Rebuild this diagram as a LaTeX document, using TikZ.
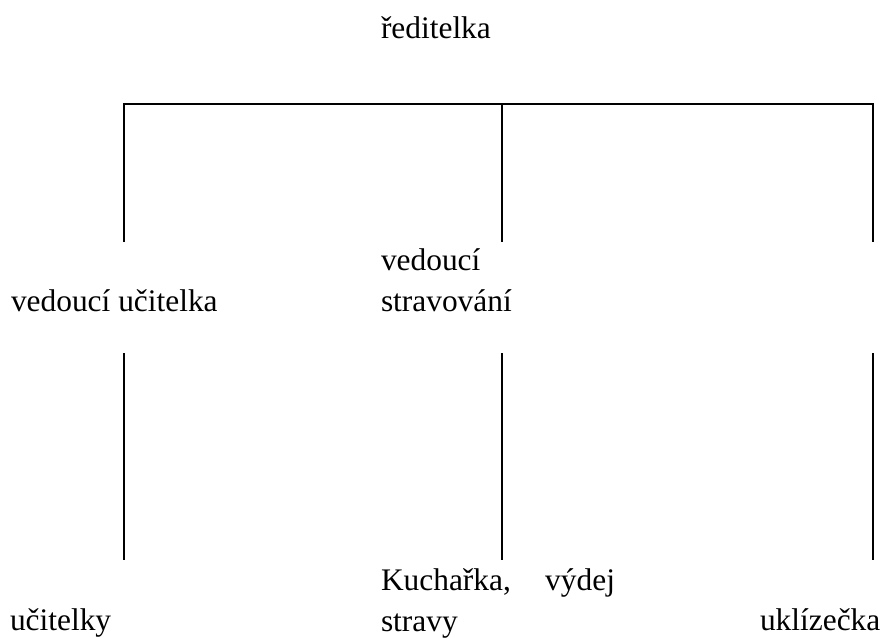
\documentclass[tikz,border=0pt]{standalone}
\usepackage{fontspec}
\setmainfont{Liberation Serif}
\begin{document}
\begin{tikzpicture}[x=1pt,y=-1pt,
  lbl/.style={inner sep=0pt,outer sep=0pt,anchor=base west,
    font=\fontsize{31.4}{41}\selectfont},
  mlbl/.style={lbl,align=left},
  conn/.style={line width=2pt,line join=miter,black}]
\useasboundingbox (0,0) rectangle (883,637);
% labels
\node[lbl] (dir) at (381,38.3) {ředitelka};
\node[lbl] (vu) at (11,311.7) {vedoucí učitelka};
\node[mlbl,text width=140pt] (vs) at (381,270.7) {vedoucí\\stravování};
\node[mlbl,text width=234pt] (kv) at (381,590) {Kuchařka,\hfill výdej\\stravy};
\node[lbl] (uc) at (10,630) {učitelky};
\node[lbl] (uk) at (760,630) {uklízečka};
% connector points
\coordinate (hL) at (124,104);
\coordinate (hM) at (502,104);
\coordinate (hR) at (873,104);
\coordinate (aL) at (124,242);
\coordinate (aM) at (502,242);
\coordinate (aR) at (873,242);
\coordinate (bL) at (124,353);
\coordinate (bM) at (502,353);
\coordinate (bR) at (873,353);
\coordinate (cL) at (124,560);
\coordinate (cM) at (502,560);
\coordinate (cR) at (873,560);
% connectors
\draw[conn] (aL) -- (hL) -- (hR) -- (aR);
\draw[conn] (hM) -- (aM);
\draw[conn] (bL) -- (cL);
\draw[conn] (bM) -- (cM);
\draw[conn] (bR) -- (cR);
\end{tikzpicture}
\end{document}
